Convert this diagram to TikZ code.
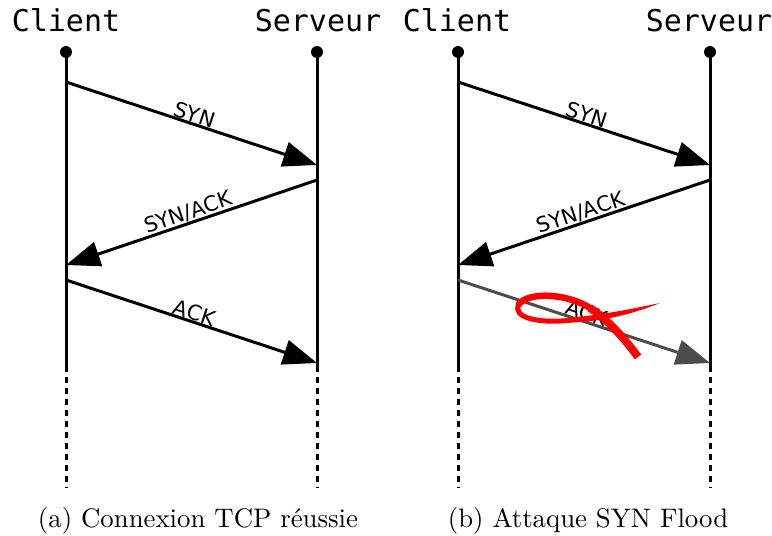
\documentclass[tikz,border=0pt]{standalone}
\usepackage{fontspec}
\newfontfamily\monofont{DejaVu Sans Mono}
\newfontfamily\msgfont{DejaVu Sans}
\usetikzlibrary{arrows.meta}

\begin{document}
\begin{tikzpicture}[x=1pt, y=-1pt,
    every node/.style={inner sep=0pt, outer sep=0pt},
    actor/.style={font=\monofont\fontsize{30}{32}\selectfont, anchor=base},
    life/.style={line width=3pt},
    tail/.style={line width=3pt, dash pattern=on 6pt off 5pt},
    msg/.style={line width=3pt, -{Triangle[length=34pt,width=25pt]}},
    lost/.style={msg, draw=black!70, -{Triangle[length=34pt,width=25pt,fill=black!70]}},
    lbl/.style={font=\msgfont\fontsize{21}{22}\selectfont, sloped, above=1.5pt},
    subcap/.style={font=\fontsize{10}{12}\selectfont, scale=2.68, anchor=base}]

  \useasboundingbox (0,0) rectangle (772,536);

  % (a) normal handshake
  \node[actor] (cliA) at (66,31) {Client};
  \node[actor] (srvA) at (318,31) {Serveur};
  \coordinate (cA0) at (66,52);  \coordinate (sA0) at (317,52);
  \coordinate (cA1) at (66,82);  \coordinate (sA1) at (317,165);
  \coordinate (sA2) at (317,180); \coordinate (cA2) at (66,265);
  \coordinate (cA3) at (66,280); \coordinate (sA3) at (317,363);
  \coordinate (cAe) at (66,366); \coordinate (sAe) at (317,366);
  \coordinate (cAd) at (66,488); \coordinate (sAd) at (317,488);

  \fill (cA0) circle (6pt);
  \fill (sA0) circle (6pt);
  \draw[life] (cA0) -- (cAe);
  \draw[life] (sA0) -- (sAe);
  \draw[tail] (cAe) -- (cAd);
  \draw[tail] (sAe) -- (sAd);

  \draw[msg] (cA1) -- node[lbl] {SYN} (sA1);
  \draw[msg] (sA2) -- node[lbl] {SYN/ACK} (cA2);
  \draw[msg] (cA3) -- node[lbl] {ACK} (sA3);

  \node[subcap] (capA) at (198,527) {(a) Connexion TCP réussie};

  % (b) SYN flood
  \node[actor] (cliB) at (457,31) {Client};
  \node[actor] (srvB) at (709,31) {Serveur};
  \coordinate (cB0) at (458,52);  \coordinate (sB0) at (710,52);
  \coordinate (cB1) at (458,82);  \coordinate (sB1) at (710,165);
  \coordinate (sB2) at (710,180); \coordinate (cB2) at (458,265);
  \coordinate (cB3) at (458,280); \coordinate (sB3) at (710,363);
  \coordinate (cBe) at (458,366); \coordinate (sBe) at (710,366);
  \coordinate (cBd) at (458,488); \coordinate (sBd) at (710,488);

  \fill (cB0) circle (6pt);
  \fill (sB0) circle (6pt);
  \draw[life] (cB0) -- (cBe);
  \draw[life] (sB0) -- (sBe);
  \draw[tail] (cBe) -- (cBd);
  \draw[tail] (sBe) -- (sBd);

  \draw[msg] (cB1) -- node[lbl] {SYN} (sB1);
  \draw[msg] (sB2) -- node[lbl] {SYN/ACK} (cB2);
  \draw[lost] (cB3) -- node[lbl] {ACK} (sB3);

  % red ribbon over the lost ACK
  \draw[red, line width=8pt] (638,357) .. controls (624,338) and (608,320) .. (590,308);
  \draw[red, line width=6.5pt, line cap=round] (590,308) .. controls (568,294) and (530,291) .. (519,304);
  \draw[red, line width=5pt, line cap=round] (519,304) .. controls (511,318) and (540,324) .. (572,320);
  \fill[red] (572,317.5) .. controls (610,314) and (640,307) .. (660,303)
    .. controls (640,311) and (610,321) .. (572,322.5) -- cycle;

  \node[subcap] (capB) at (588,527) {(b) Attaque SYN Flood};
\end{tikzpicture}
\end{document}
